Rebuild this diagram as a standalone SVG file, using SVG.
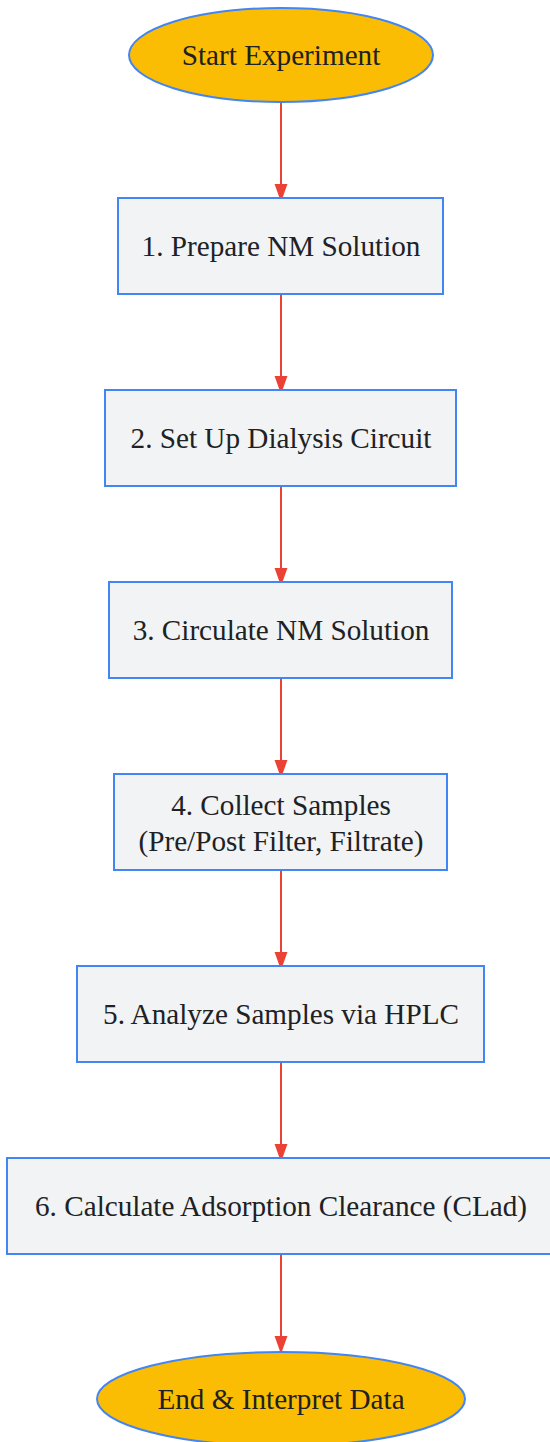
<svg xmlns="http://www.w3.org/2000/svg" width="550" height="1442" viewBox="0 0 550 1442">
<style>
.term{fill:#FBBC04;stroke:#4285F4;stroke-width:2}
.step{fill:#F1F3F4;stroke:#4285F4;stroke-width:2}
.lbl{font-family:"Liberation Serif","Times New Roman",serif;font-size:29.2px;fill:#202124;text-anchor:middle}
.edge{stroke:#EA4335;stroke-width:2;fill:none}
</style>
<defs>
<marker id="arr" markerWidth="18" markerHeight="25" refX="18" refY="9" orient="auto" markerUnits="userSpaceOnUse" viewBox="0 0 25 18">
<path d="M0,0 L25,9 L0,18 Z" fill="#EA4335"/>
</marker>
</defs>
<rect width="550" height="1442" fill="#FFFFFF"/>
<g id="connectors">
<path class="edge" d="M281,103 L281,197" marker-end="url(#arr)"/>
<path class="edge" d="M281,295 L281,389" marker-end="url(#arr)"/>
<path class="edge" d="M281,487 L281,581" marker-end="url(#arr)"/>
<path class="edge" d="M281,679 L281,773" marker-end="url(#arr)"/>
<path class="edge" d="M281,871 L281,965" marker-end="url(#arr)"/>
<path class="edge" d="M281,1063 L281,1157" marker-end="url(#arr)"/>
<path class="edge" d="M281,1255 L281,1349" marker-end="url(#arr)"/>
</g>
<g id="start">
<ellipse class="term" cx="281" cy="55" rx="152" ry="47"/>
<text class="lbl" x="281" y="65">Start Experiment</text>
</g>
<g id="step1">
<rect class="step" x="118" y="198" width="325" height="96"/>
<text class="lbl" x="281" y="256">1. Prepare NM Solution</text>
</g>
<g id="step2">
<rect class="step" x="105" y="390" width="351" height="96"/>
<text class="lbl" x="281" y="448">2. Set Up Dialysis Circuit</text>
</g>
<g id="step3">
<rect class="step" x="109" y="582" width="343" height="96"/>
<text class="lbl" x="281" y="640">3. Circulate NM Solution</text>
</g>
<g id="step4">
<rect class="step" x="114" y="774" width="333" height="96"/>
<text class="lbl" x="281" y="815">4. Collect Samples</text>
<text class="lbl" x="281" y="851">(Pre/Post Filter, Filtrate)</text>
</g>
<g id="step5">
<rect class="step" x="77" y="966" width="407" height="96"/>
<text class="lbl" x="281" y="1024">5. Analyze Samples via HPLC</text>
</g>
<g id="step6">
<rect class="step" x="7" y="1158" width="548" height="96"/>
<text class="lbl" x="281" y="1216">6. Calculate Adsorption Clearance (CLad)</text>
</g>
<g id="end">
<ellipse class="term" cx="281" cy="1399" rx="184" ry="47"/>
<text class="lbl" x="281" y="1409">End &amp; Interpret Data</text>
</g>
</svg>
